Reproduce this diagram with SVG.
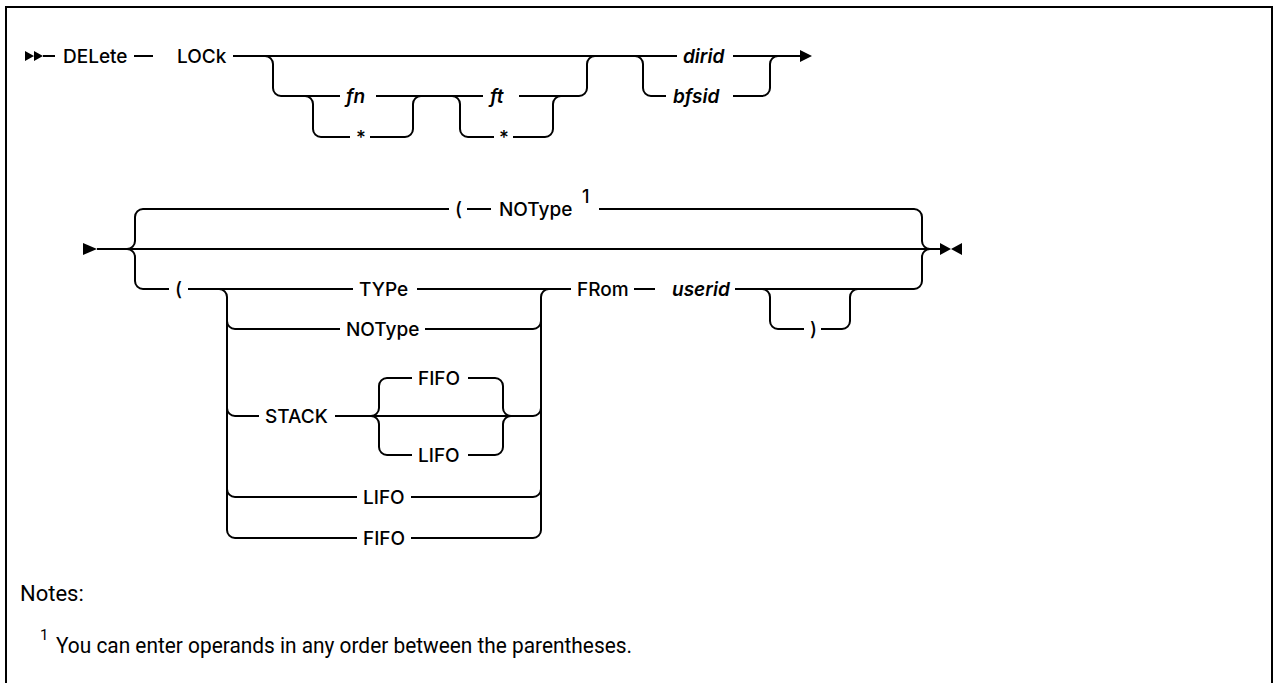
<svg xmlns="http://www.w3.org/2000/svg" width="1274" height="683" viewBox="0 0 1274 683">
<style>
.c{fill:none;stroke:#000;stroke-width:2}
.t{font-family:Inter,"Liberation Sans",sans-serif;font-size:19px;font-weight:500;fill:#000}
.i{font-style:italic;font-weight:600}
.n{font-family:Roboto,"Liberation Sans",sans-serif;font-size:22px;fill:#000}
.a{fill:#000;stroke:none}
</style>
<rect x="0" y="0" width="1274" height="683" fill="#fff"/>
<path d="M6,690 V7 H1272 V690" fill="none" stroke="#000" stroke-width="2"/>
<g id="connectors">
<path class="c" d="M43,56 H55 M134,56 H153 M233,56 H677 M733,56 H801"/>
<path class="c" d="M265,56 a8,8 0 0 1 8,8 V88 a8,8 0 0 0 8,8 H340 M376,96 H483 M519,96 H579 a8,8 0 0 0 8,-8 V64 a8,8 0 0 1 8,-8"/>
<path class="c" d="M305,96 a8,8 0 0 1 8,8 V129 a8,8 0 0 0 8,8 H350 M370,137 H405 a8,8 0 0 0 8,-8 V104 a8,8 0 0 1 8,-8"/>
<path class="c" d="M452,96 a8,8 0 0 1 8,8 V129 a8,8 0 0 0 8,8 H494 M513,137 H545 a8,8 0 0 0 8,-8 V104 a8,8 0 0 1 8,-8"/>
<path class="c" d="M635,56 a8,8 0 0 1 8,8 V88 a8,8 0 0 0 8,8 H666 M733,96 H762 a8,8 0 0 0 8,-8 V64 a8,8 0 0 1 8,-8"/>
<path class="a" d="M25,51 L34,56 L25,61 Z M34,51 L43,56 L34,61 Z"/>
<path class="a" d="M800,50 L812,56 L800,62 Z"/>
<path class="c" d="M97,249 H940"/>
<path class="c" d="M127,249 a8,8 0 0 0 8,-8 V217 a8,8 0 0 1 8,-8 H449 M467,209 H491 M599,209 H914 a8,8 0 0 1 8,8 V241 a8,8 0 0 0 8,8"/>
<path class="c" d="M127,249 a8,8 0 0 1 8,8 V281 a8,8 0 0 0 8,8 H169 M188,289 H353 M417,289 H571 M634,289 H655 M735,289 H914 a8,8 0 0 0 8,-8 V257 a8,8 0 0 1 8,-8"/>
<path class="c" d="M219,289 a8,8 0 0 1 8,8 V530 a8,8 0 0 0 8,8 H357 M227,321 a8,8 0 0 0 8,8 H340 M227,408 a8,8 0 0 0 8,8 H259 M227,489 a8,8 0 0 0 8,8 H357"/>
<path class="c" d="M411,538 H533 a8,8 0 0 0 8,-8 V297 a8,8 0 0 1 8,-8 M425,329 H533 a8,8 0 0 0 8,-8 M511,416 H533 a8,8 0 0 0 8,-8 M411,497 H533 a8,8 0 0 0 8,-8"/>
<path class="c" d="M335,416 H511 M371,416 a8,8 0 0 0 8,-8 V386 a8,8 0 0 1 8,-8 H412 M468,378 H495 a8,8 0 0 1 8,8 V408 a8,8 0 0 0 8,8 M371,416 a8,8 0 0 1 8,8 V447 a8,8 0 0 0 8,8 H412 M468,455 H495 a8,8 0 0 0 8,-8 V424 a8,8 0 0 1 8,-8"/>
<path class="c" d="M762,289 a8,8 0 0 1 8,8 V321 a8,8 0 0 0 8,8 H804 M821,329 H842 a8,8 0 0 0 8,-8 V297 a8,8 0 0 1 8,-8"/>
<path class="a" d="M83,243 L97,249 L83,255 Z"/>
<path class="a" d="M940,243 L951,249 L940,255 Z M962,243 L951,249 L962,255 Z"/>
</g>
<g id="n-delete"><text class="t" x="63" y="63">DELete</text></g>
<g id="n-lock"><text class="t" x="177" y="63">LOCk</text></g>
<g id="n-fn"><text class="t i" x="346" y="103">fn</text></g>
<g id="n-fn-star"><text class="t" x="356" y="144">*</text></g>
<g id="n-ft"><text class="t i" x="490" y="103">ft</text></g>
<g id="n-ft-star"><text class="t" x="499" y="144">*</text></g>
<g id="n-dirid"><text class="t i" x="683" y="63">dirid</text></g>
<g id="n-bfsid"><text class="t i" x="673" y="103">bfsid</text></g>
<g id="n-open1"><text class="t" x="455" y="216">(</text></g>
<g id="n-notype1"><text class="t" x="499" y="216">NOType</text><text class="t" x="582" y="203" style="font-size:18px">1</text></g>
<g id="n-open2"><text class="t" x="175" y="296">(</text></g>
<g id="n-type"><text class="t" x="359" y="296">TYPe</text></g>
<g id="n-notype2"><text class="t" x="346" y="336">NOType</text></g>
<g id="n-stack"><text class="t" x="265" y="423">STACK</text></g>
<g id="n-fifo-in"><text class="t" x="418" y="385">FIFO</text></g>
<g id="n-lifo-in"><text class="t" x="418" y="462">LIFO</text></g>
<g id="n-lifo"><text class="t" x="363" y="504">LIFO</text></g>
<g id="n-fifo"><text class="t" x="363" y="545">FIFO</text></g>
<g id="n-from"><text class="t" x="577" y="296">FRom</text></g>
<g id="n-userid"><text class="t i" x="672" y="296">userid</text></g>
<g id="n-close"><text class="t" x="810" y="336">)</text></g>
<g id="notes">
<text class="n" x="20" y="601">Notes:</text>
<text class="n" x="40" y="640" style="font-size:15px">1</text>
<text class="n" x="56" y="653" textLength="576" lengthAdjust="spacingAndGlyphs">You can enter operands in any order between the parentheses.</text>
</g>
</svg>
